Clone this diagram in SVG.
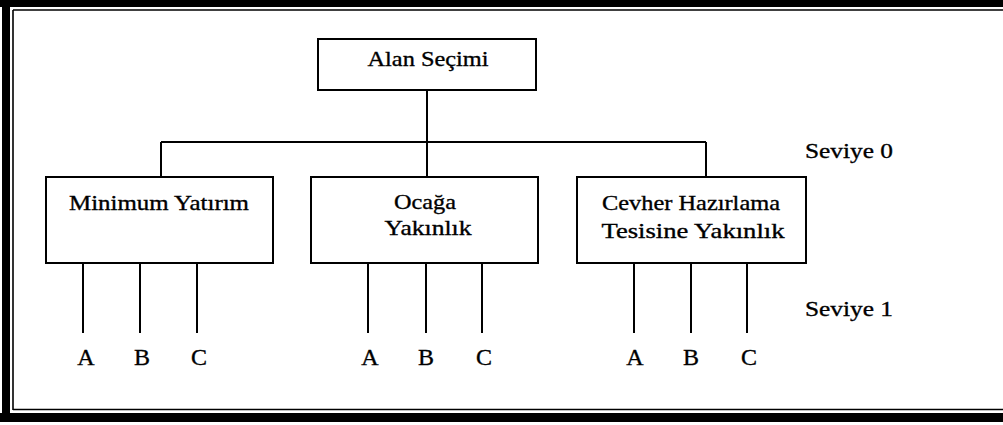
<svg xmlns="http://www.w3.org/2000/svg" width="1003" height="425" viewBox="0 0 1003 425">
  <style>
    .box { fill: #fff; stroke: #000; stroke-width: 2; }
    .wire { fill: none; stroke: #000; stroke-width: 2; }
    text { font-family: "Liberation Serif", "Times New Roman", serif; fill: #000; stroke: #000; stroke-width: 0.35; }
    .lbl { font-size: 22px; text-anchor: middle; }
    .lvl { font-size: 22px; }
    .leaf { font-size: 24px; text-anchor: middle; }
  </style>

  <rect width="1003" height="425" fill="#fff"/>

  <!-- double frame: heavy outer band plus thin inner rule -->
  <g id="frame">
    <rect x="0" y="0" width="1003" height="7" fill="#000"/>
    <rect x="0" y="413" width="1003" height="9" fill="#000"/>
    <rect x="2" y="0" width="8" height="422" fill="#000"/>
    <line x1="13" y1="10" x2="1003" y2="10" stroke="#000" stroke-width="1.6"/>
    <line x1="13" y1="409.5" x2="1003" y2="409.5" stroke="#000" stroke-width="1.6"/>
    <line x1="13" y1="10" x2="13" y2="410" stroke="#000" stroke-width="1.6"/>
  </g>

  <!-- tree connectors -->
  <g id="connectors" class="wire">
    <path d="M427 90 V142 M161 142 H706 M161 142 V177 M427 142 V177 M706 142 V177"/>
    <path d="M83 263 V333 M140 263 V333 M197 263 V333"/>
    <path d="M368 263 V333 M426 263 V333 M482 263 V333"/>
    <path d="M634 263 V333 M691 263 V333 M747 263 V333"/>
  </g>

  <g id="root">
    <rect class="box" x="318" y="39" width="218" height="51"/>
    <text class="lbl" x="428" y="66" textLength="121" lengthAdjust="spacingAndGlyphs">Alan Seçimi</text>
  </g>

  <g id="minimum-yatirim">
    <rect class="box" x="46" y="177" width="227" height="86"/>
    <text class="lbl" x="159" y="210" textLength="180" lengthAdjust="spacingAndGlyphs">Minimum Yatırım</text>
  </g>

  <g id="ocaga-yakinlik">
    <rect class="box" x="311" y="177" width="227" height="86"/>
    <text class="lbl" x="425" y="209" textLength="62" lengthAdjust="spacingAndGlyphs">Ocağa</text>
    <text class="lbl" x="428" y="235" textLength="87" lengthAdjust="spacingAndGlyphs">Yakınlık</text>
  </g>

  <g id="cevher-hazirlama">
    <rect class="box" x="577" y="177" width="229" height="86"/>
    <text class="lbl" x="691" y="210" textLength="178" lengthAdjust="spacingAndGlyphs">Cevher Hazırlama</text>
    <text class="lbl" x="693" y="238" textLength="183" lengthAdjust="spacingAndGlyphs">Tesisine Yakınlık</text>
  </g>

  <g id="levels">
    <text class="lvl" x="805" y="158" textLength="88" lengthAdjust="spacingAndGlyphs">Seviye 0</text>
    <text class="lvl" x="805" y="316" textLength="88" lengthAdjust="spacingAndGlyphs">Seviye 1</text>
  </g>

  <g id="leaves-1">
    <text class="leaf" x="86" y="365">A</text>
    <text class="leaf" x="142" y="365">B</text>
    <text class="leaf" x="199" y="365">C</text>
  </g>
  <g id="leaves-2">
    <text class="leaf" x="370" y="365">A</text>
    <text class="leaf" x="426" y="365">B</text>
    <text class="leaf" x="484" y="365">C</text>
  </g>
  <g id="leaves-3">
    <text class="leaf" x="635" y="365">A</text>
    <text class="leaf" x="691" y="365">B</text>
    <text class="leaf" x="749" y="365">C</text>
  </g>
</svg>
